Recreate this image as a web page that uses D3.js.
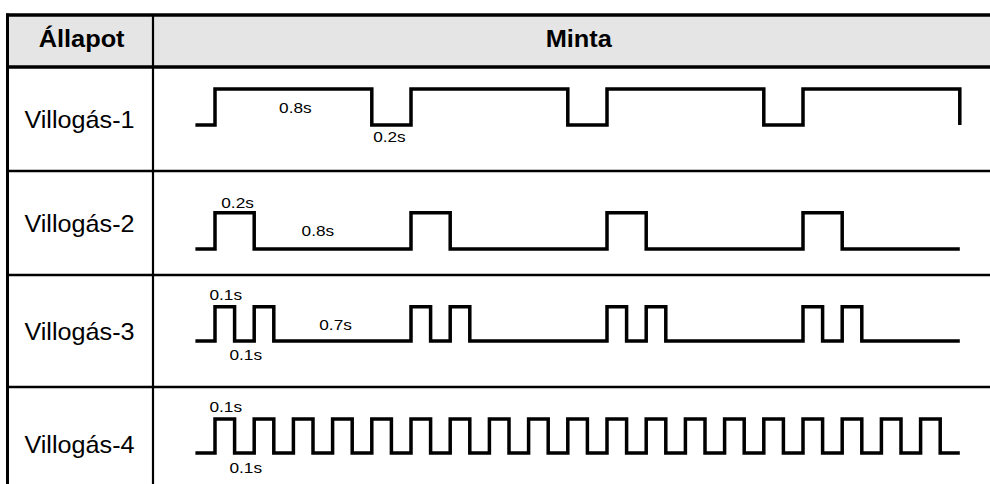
<!DOCTYPE html>
<html>
<head>
<meta charset="utf-8">
<script src="https://cdn.jsdelivr.net/npm/d3@7"></script>
<style>
  html, body { margin: 0; padding: 0; background: #fff; }
  svg { display: block; }
  text { font-family: "Liberation Sans", Arial, sans-serif; fill: #000; }
</style>
</head>
<body>
<svg id="chart" width="990" height="484"></svg>
<script>
// ---- Data ----
const headers = ["Állapot", "Minta"];
const states = ["Villogás-1", "Villogás-2", "Villogás-3", "Villogás-4"];

// step waveforms: [time in seconds, level (1 = on, 0 = off)]
const wave1 = [[-0.1,0],[0,1],[0.8,0],[1.0,1],[1.8,0],[2.0,1],[2.8,0],[3.0,1],[3.8,0]];
const wave2 = [[-0.1,0],[0,1],[0.2,0],[1.0,1],[1.2,0],[2.0,1],[2.2,0],[3.0,1],[3.2,0],[3.8,0]];
const wave3 = [[-0.1,0],[0,1],[0.1,0],[0.2,1],[0.3,0],[1.0,1],[1.1,0],[1.2,1],[1.3,0],
               [2.0,1],[2.1,0],[2.2,1],[2.3,0],[3.0,1],[3.1,0],[3.2,1],[3.3,0],[3.8,0]];
const wave4 = [[-0.1,0],[0,1],[0.1,0],[0.2,1],[0.3,0],[0.4,1],[0.5,0],[0.6,1],[0.7,0],
               [0.8,1],[0.9,0],[1.0,1],[1.1,0],[1.2,1],[1.3,0],[1.4,1],[1.5,0],[1.6,1],[1.7,0],
               [1.8,1],[1.9,0],[2.0,1],[2.1,0],[2.2,1],[2.3,0],[2.4,1],[2.5,0],[2.6,1],[2.7,0],
               [2.8,1],[2.9,0],[3.0,1],[3.1,0],[3.2,1],[3.3,0],[3.4,1],[3.5,0],[3.6,1],[3.7,0],[3.8,0]];
const waves = [wave1, wave2, wave3, wave4];

// duration annotations: [row index, time position (s), label, above/below]
const notes = [
  [0, 0.41, "0.8s", "mid"],
  [0, 0.89, "0.2s", "below"],
  [1, 0.115, "0.2s", "above"],
  [1, 0.525, "0.8s", "mid"],
  [2, 0.055, "0.1s", "above"],
  [2, 0.157, "0.1s", "below"],
  [2, 0.615, "0.7s", "mid"],
  [3, 0.055, "0.1s", "above"],
  [3, 0.157, "0.1s", "below"]
];

// ---- Layout ----
const svg = d3.select("#chart");
const W = 990, H = 484;
const leftX = 7.5, topY = 15, colDiv = 153, headBottom = 67;
const rowTops = [67, 171, 275, 387];
const rowBottoms = [171, 275, 387, 501];
// per-row high/low offsets from the row top
const levelOffsets = [[22, 58], [41.7, 78], [31.7, 66], [32, 66]];
// label baseline offsets from row top for above/mid/below
const noteOffsets = [
  {mid: 46.3, below: 75.3},
  {above: 36.7, mid: 65},
  {above: 25, mid: 55, below: 85},
  {above: 24.7, below: 86}
];

const x = d3.scaleLinear().domain([0, 1]).range([215, 411]);

// header background
svg.append("rect").attr("x", leftX).attr("y", topY).attr("width", W - leftX)
  .attr("height", headBottom - topY).attr("fill", "#e5e5e5");

// header text
const headScale = 1.08;
[[81.6, headers[0]], [578.8, headers[1]]].forEach(([cx, t]) => {
  svg.append("text").attr("transform", `translate(${cx},47.3) scale(${headScale},1)`)
    .attr("text-anchor", "middle").attr("font-size", 23.5).attr("font-weight", "bold").text(t);
});

// state labels
states.forEach((s, i) => {
  const cy = (rowTops[i] + rowBottoms[i]) / 2;
  svg.append("text").attr("transform", `translate(79.5,${i === 3 ? 452.7 : cy + 8.6}) scale(1.05,1)`)
    .attr("text-anchor", "middle").attr("font-size", 24).text(s);
});

// waveforms
waves.forEach((w, i) => {
  const y = d3.scaleLinear().domain([0, 1])
    .range([rowTops[i] + levelOffsets[i][1], rowTops[i] + levelOffsets[i][0]]);
  const line = d3.line().x(d => x(d[0])).y(d => y(d[1])).curve(d3.curveStepAfter);
  svg.append("path").attr("d", line(w)).attr("fill", "none")
    .attr("stroke", "#000").attr("stroke-width", 3.5).attr("stroke-linejoin", "miter");
});

// annotations
notes.forEach(([r, t, label, pos]) => {
  svg.append("text").attr("transform", `translate(${x(t)},${rowTops[r] + noteOffsets[r][pos]}) scale(1.15,1)`)
    .attr("text-anchor", "middle").attr("font-size", 15).text(label);
});

// grid lines
const g = svg.append("g").attr("stroke", "#000");
g.append("line").attr("x1", leftX - 1.5).attr("x2", W).attr("y1", topY).attr("y2", topY).attr("stroke-width", 3.3);
g.append("line").attr("x1", leftX).attr("x2", leftX).attr("y1", topY - 1.6).attr("y2", H).attr("stroke-width", 3);
g.append("line").attr("x1", leftX).attr("x2", W).attr("y1", headBottom).attr("y2", headBottom).attr("stroke-width", 3.5);
g.append("line").attr("x1", colDiv).attr("x2", colDiv).attr("y1", topY).attr("y2", H).attr("stroke-width", 2.2);
rowBottoms.slice(0, 3).forEach(yy => {
  g.append("line").attr("x1", leftX).attr("x2", W).attr("y1", yy).attr("y2", yy).attr("stroke-width", 2.5);
});
</script>
</body>
</html>
